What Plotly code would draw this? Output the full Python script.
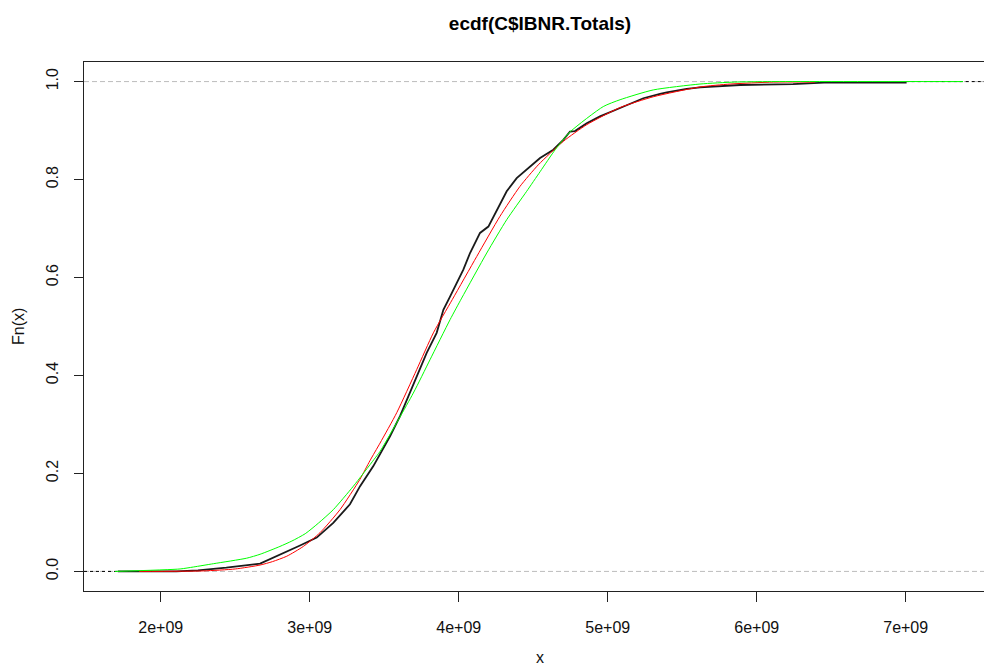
import plotly.graph_objects as go

# ---- data (x in units of 1e9) ----
ecdf_x = [1.712, 2.104, 2.25, 2.44, 2.667, 2.78, 2.935, 3.047, 3.158, 3.27, 3.338, 3.427,
          3.472, 3.539, 3.606, 3.673, 3.740, 3.785, 3.852, 3.897, 3.94, 4.031, 4.076,
          4.143, 4.199, 4.255, 4.322, 4.389, 4.456, 4.523, 4.546, 4.635, 4.702, 4.747,
          4.78, 4.859, 4.948, 5.083, 5.195, 5.239, 5.351, 5.396, 5.530, 5.62, 5.888,
          6.244, 6.452, 7.0, 7.0]
ecdf_y = [0.0, 0.0, 0.002, 0.0075, 0.016, 0.031, 0.053, 0.069, 0.099, 0.137, 0.174, 0.215,
          0.239, 0.276, 0.317, 0.364, 0.412, 0.446, 0.487, 0.534, 0.56, 0.616, 0.650,
          0.691, 0.704, 0.738, 0.776, 0.803, 0.820, 0.837, 0.844, 0.861, 0.881, 0.898,
          0.899, 0.915, 0.929, 0.946, 0.961, 0.966, 0.975, 0.978, 0.985, 0.988, 0.993,
          0.995, 0.998, 0.998, 1.0]

red_x = [1.855, 2.284, 2.5, 2.667, 2.75, 2.846, 2.957, 3.069, 3.203, 3.337, 3.404, 3.472,
         3.584, 3.718, 3.830, 3.957, 4.121, 4.277, 4.411, 4.534, 4.702, 4.859, 5.083,
         5.306, 5.619, 5.822, 6.111, 6.39]
red_y = [0.0, 0.001, 0.005, 0.013, 0.02, 0.031, 0.051, 0.079, 0.126, 0.188, 0.226, 0.262,
         0.324, 0.412, 0.487, 0.555, 0.643, 0.725, 0.786, 0.830, 0.878, 0.912, 0.947,
         0.969, 0.989, 0.995, 0.999, 0.999]

green_x = [1.693, 2.13, 2.219, 2.353, 2.577, 2.667, 2.80, 2.88, 2.97, 3.06, 3.158, 3.293,
           3.43, 3.472, 3.695, 3.807, 3.942, 4.02, 4.188, 4.322, 4.456, 4.546, 4.65, 4.75,
           4.97, 5.083, 5.306, 5.619, 5.85, 6.1, 7.385]
green_y = [0.0, 0.005, 0.009, 0.0157, 0.027, 0.035, 0.051, 0.062, 0.077, 0.099, 0.126, 0.174,
           0.228, 0.245, 0.364, 0.432, 0.514, 0.558, 0.650, 0.718, 0.776, 0.816, 0.862,
           0.898, 0.949, 0.963, 0.983, 0.995, 0.999, 1.0, 1.0]

x_ticks = [2e9, 3e9, 4e9, 5e9, 6e9, 7e9]
x_ticktext = ["2e+09", "3e+09", "4e+09", "5e+09", "6e+09", "7e+09"]
y_ticks = [0.0, 0.2, 0.4, 0.6, 0.8, 1.0]
y_ticktext = ["0.0", "0.2", "0.4", "0.6", "0.8", "1.0"]
ref_levels = [0.0, 1.0]

X_RANGE = [1.485e9, 7.5255e9]
Y_RANGE = [-0.04, 1.04]

FONT = "Liberation Sans, Arial, sans-serif"

scale = 1e9
ex = [v * scale for v in ecdf_x]
rx = [v * scale for v in red_x]
gx = [v * scale for v in green_x]

fig = go.Figure()

# reference dashed lines at 0 and 1
for lv in ref_levels:
    fig.add_trace(go.Scatter(x=X_RANGE, y=[lv, lv], mode="lines",
                             line=dict(color="#bcbcbc", width=1, dash="5px,3px"),
                             hoverinfo="skip", showlegend=False))

# ecdf extensions beyond the knots (dotted)
fig.add_trace(go.Scatter(x=[X_RANGE[0], ex[0]], y=[ecdf_y[0], ecdf_y[0]], mode="lines",
                         line=dict(color="black", width=1, dash="3px,3px"),
                         hoverinfo="skip", showlegend=False))
fig.add_trace(go.Scatter(x=[ex[-1], X_RANGE[1]], y=[ecdf_y[-1], ecdf_y[-1]], mode="lines",
                         line=dict(color="black", width=1, dash="3px,3px"),
                         hoverinfo="skip", showlegend=False))

fig.add_trace(go.Scatter(x=ex, y=ecdf_y, mode="lines",
                         line=dict(color="#1a1a1a", width=1.8), showlegend=False))
fig.add_trace(go.Scatter(x=rx, y=red_y, mode="lines", line_shape="spline",
                         line=dict(color="#ff0000", width=1, smoothing=0.6), showlegend=False))
fig.add_trace(go.Scatter(x=gx, y=green_y, mode="lines", line_shape="spline",
                         line=dict(color="#00ff00", width=1, smoothing=0.6), showlegend=False))

L, T, B = 84, 62, 76
W, H = 984, 667
PW = W - L
PH = H - T - B

fig.update_layout(
    width=W, height=H,
    margin=dict(l=L, r=0, t=T, b=B, pad=0),
    paper_bgcolor="white", plot_bgcolor="white",
    font=dict(family=FONT, size=16, color="black"),
    title=dict(text="<b>ecdf(C$IBNR.Totals)</b>", x=540 / W, xanchor="center",
               y=1 - 23 / H, yanchor="middle", yref="container",
               font=dict(family=FONT, size=19, color="black")),
    xaxis=dict(range=X_RANGE, tickvals=x_ticks, ticktext=x_ticktext,
               ticks="outside", ticklen=10, tickcolor="#222", tickwidth=1,
               showline=True, linecolor="#222", linewidth=1, mirror=True,
               showgrid=False, zeroline=False, ticklabelstandoff=12,
               tickfont=dict(family=FONT, size=16, color="#111")),
    yaxis=dict(range=Y_RANGE, tickvals=y_ticks, ticktext=y_ticktext,
               ticks="outside", ticklen=9, tickcolor="#222", tickwidth=1,
               showline=True, linecolor="#222", linewidth=1, mirror=False,
               showgrid=False, zeroline=False, tickangle=-90, ticklabelstandoff=10,
               tickfont=dict(family=FONT, size=16, color="#111")),
    annotations=[
        dict(text="x", xref="paper", yref="paper", x=(540 - L) / PW, y=(T + PH - 657) / PH,
             xanchor="center", yanchor="middle", showarrow=False,
             font=dict(family=FONT, size=16, color="#111")),
        dict(text="Fn(x)", xref="paper", yref="paper", x=(18 - L) / PW, y=(T + PH - 327) / PH,
             xanchor="center", yanchor="middle", showarrow=False, textangle=-90,
             font=dict(family=FONT, size=16, color="#111")),
    ],
)

fig.write_html("out.html")
